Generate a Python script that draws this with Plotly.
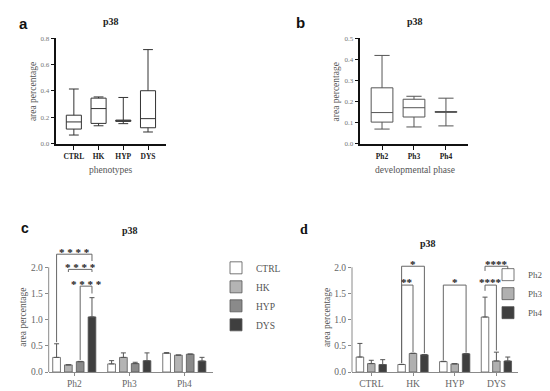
import plotly.graph_objects as go

W, H = 550, 391
SERIF = "Liberation Serif"
SANS = "Liberation Sans"

# ---------------- data ----------------
phenotypes = ["CTRL", "HK", "HYP", "DYS"]
phases = ["Ph2", "Ph3", "Ph4"]

# panel a: box summary per phenotype
a_low = [0.067, 0.137, 0.153, 0.090]
a_q1 = [0.112, 0.155, 0.170, 0.122]
a_med = [0.166, 0.267, 0.175, 0.191]
a_q3 = [0.217, 0.346, 0.180, 0.402]
a_high = [0.415, 0.355, 0.351, 0.713]

# panel b: box summary per developmental phase
b_low = [0.070, 0.080, 0.085]
b_q1 = [0.103, 0.127, 0.149]
b_med = [0.148, 0.171, 0.151]
b_q3 = [0.265, 0.211, 0.153]
b_high = [0.418, 0.225, 0.216]

# panel c: mean (and upper SD) per phase, one series per phenotype
c_ctrl = [0.279, 0.155, 0.359]
c_hk = [0.136, 0.279, 0.322]
c_hyp = [0.198, 0.161, 0.340]
c_dys = [1.053, 0.217, 0.210]
c_ctrl_err = [0.260, 0.062, 0.011]
c_hk_err = [0.003, 0.086, 0.003]
c_hyp_err = [0.005, 0.025, 0.003]
c_dys_err = [0.367, 0.148, 0.070]

# panel d: mean (and upper SD) per phenotype, one series per phase
d_ph2 = [0.286, 0.143, 0.199, 1.050]
d_ph3 = [0.161, 0.354, 0.155, 0.211]
d_ph4 = [0.143, 0.329, 0.348, 0.211]
d_ph2_err = [0.260, 0.003, 0.005, 0.380]
d_ph3_err = [0.063, 0.005, 0.005, 0.168]
d_ph4_err = [0.093, 0.005, 0.005, 0.075]

# significance brackets: (group, left bar, right bar, top, left foot, right foot, label)
c_sig = [
    (0, 0, 3, 2.25, 0.57, 2.12, "* * * *"),
    (0, 1, 3, 1.96, 1.91, 1.91, "* * * *"),
    (0, 2, 3, 1.64, 0.23, 1.50, "* * * *"),
]
d_sig = [
    (1, 0, 2, 2.02, 0.17, 0.36, "*"),
    (1, 0, 1, 1.66, 0.17, 0.38, "**"),
    (2, 0, 2, 1.66, 0.22, 0.37, "*"),
    (3, 0, 1, 1.66, 1.55, 0.41, "****"),
    (3, 0, 2, 2.02, 1.93, 1.93, "****"),
]


def px_x(p):
    return p / W


def px_y(p):
    return 1 - p / H


fig = go.Figure()

# ---------------- panel a ----------------
fig.add_trace(go.Box(
    x=phenotypes, q1=a_q1, median=a_med, q3=a_q3,
    lowerfence=a_low, upperfence=a_high,
    fillcolor="white", line=dict(color="#333333", width=1),
    whiskerwidth=0.65, width=0.61, boxpoints=False, showlegend=False,
    xaxis="x", yaxis="y",
))

# ---------------- panel b ----------------
fig.add_trace(go.Box(
    x=phases, q1=b_q1, median=b_med, q3=b_q3,
    lowerfence=b_low, upperfence=b_high,
    fillcolor="white", line=dict(color="#555555", width=1),
    whiskerwidth=0.7, width=0.68, boxpoints=False, showlegend=False,
    xaxis="x2", yaxis="y2",
))

# ---------------- panel c ----------------
C_SLOT, C_W = 0.2145, 0.14
c_series = [("CTRL", c_ctrl, c_ctrl_err, "#ffffff"),
            ("HK", c_hk, c_hk_err, "#b4b4b4"),
            ("HYP", c_hyp, c_hyp_err, "#8a8a8a"),
            ("DYS", c_dys, c_dys_err, "#3f3f3f")]
nC = len(c_series)
for i, (name, vals, err, col) in enumerate(c_series):
    center = (i - (nC - 1) / 2) * C_SLOT
    fig.add_trace(go.Bar(
        x=phases, y=vals, name=name, width=C_W, offset=center - C_W / 2,
        marker=dict(color=col, line=dict(color="#555555", width=0.8)),
        error_y=dict(type="data", array=err, arrayminus=[0] * len(err),
                     symmetric=False, color="#555555", thickness=1, width=2.5),
        xaxis="x3", yaxis="y3", legend="legend",
    ))

# ---------------- panel d ----------------
D_SLOT, D_W = 0.273, 0.18
d_series = [("Ph2", d_ph2, d_ph2_err, "#ffffff"),
            ("Ph3", d_ph3, d_ph3_err, "#b0b0b0"),
            ("Ph4", d_ph4, d_ph4_err, "#3f3f3f")]
nD = len(d_series)
for i, (name, vals, err, col) in enumerate(d_series):
    center = (i - (nD - 1) / 2) * D_SLOT
    fig.add_trace(go.Bar(
        x=phenotypes, y=vals, name=name, width=D_W, offset=center - D_W / 2,
        marker=dict(color=col, line=dict(color="#555555", width=0.8)),
        error_y=dict(type="data", array=err, arrayminus=[0] * len(err),
                     symmetric=False, color="#555555", thickness=1, width=2.5),
        xaxis="x4", yaxis="y4", legend="legend2",
    ))

shapes = []
annotations = []


def add_brackets(sig, n, slot, xref, yref, fsize):
    for g, li, ri, top, lf, rf, label in sig:
        xl = g + (li - (n - 1) / 2) * slot
        xr = g + (ri - (n - 1) / 2) * slot
        line = dict(color="#666666", width=1)
        shapes.append(dict(type="line", xref=xref, yref=yref, x0=xl, x1=xl, y0=lf, y1=top, line=line))
        shapes.append(dict(type="line", xref=xref, yref=yref, x0=xl, x1=xr, y0=top, y1=top, line=line))
        shapes.append(dict(type="line", xref=xref, yref=yref, x0=xr, x1=xr, y0=rf, y1=top, line=line))
        annotations.append(dict(xref=xref, yref=yref, x=(xl + xr) / 2, y=top + 0.05,
                                text=label, showarrow=False, yanchor="middle",
                                font=dict(family=SERIF, size=fsize, color="#222222", weight="bold")))


add_brackets(c_sig, nC, C_SLOT, "x3", "y3", 11)
add_brackets(d_sig, nD, D_SLOT, "x4", "y4", 11)

# ---------------- layout geometry ----------------
AB_Y = [px_y(135), px_y(26.7)]
C_YMAX = 2.45
CD_Y = [px_y(368.5), px_y(368.5 - C_YMAX * 53.6)]

axis_ab = dict(showline=True, linecolor="#111111", linewidth=1.5, ticks="outside",
               ticklen=4, tickwidth=1.3, tickcolor="#111111", showgrid=False, zeroline=False)
axis_cd = dict(showline=True, linecolor="#8a8a8a", linewidth=1, ticks="outside",
               ticklen=3, tickwidth=1, tickcolor="#8a8a8a", showgrid=False, zeroline=False)

xa_font = dict(family=SERIF, size=7.5, color="#222222", weight="bold")
ya_font = dict(family=SERIF, size=7, color="#777777")
cd_font = dict(family=SERIF, size=9.5, color="#666666")

fig.update_layout(
    width=W, height=H, margin=dict(l=0, r=0, t=0, b=0),
    paper_bgcolor="white", plot_bgcolor="white",
    barmode="group",
    xaxis=dict(domain=[px_x(48.3), px_x(158.3)], anchor="y", range=[-0.71, 3.74],
               tickfont=xa_font, **axis_ab),
    yaxis=dict(domain=AB_Y, anchor="x", range=[0, 0.8], dtick=0.2, tickformat=".1f",
               tickfont=ya_font, **axis_ab),
    xaxis2=dict(domain=[px_x(352.3), px_x(460)], anchor="y2", range=[-0.68, 2.69],
                tickfont=xa_font, **axis_ab),
    yaxis2=dict(domain=AB_Y, anchor="x2", range=[0, 0.5], dtick=0.1, tickformat=".1f",
                tickfont=ya_font, **axis_ab),
    xaxis3=dict(domain=[px_x(40.7), px_x(204.7)], anchor="y3", range=[-0.465, 2.516],
                tickfont=cd_font, **axis_cd),
    yaxis3=dict(domain=CD_Y, anchor="x3", range=[0, C_YMAX],
                tickvals=[0, 0.5, 1.0, 1.5, 2.0], tickformat=".1f",
                tickfont=cd_font, **{**axis_cd, "showline": False}),
    xaxis4=dict(domain=[px_x(344), px_x(510)], anchor="y4", range=[-0.463, 3.518],
                tickfont=cd_font, **axis_cd),
    yaxis4=dict(domain=CD_Y, anchor="x4", range=[0, C_YMAX],
                tickvals=[0, 0.5, 1.0, 1.5, 2.0], tickformat=".1f",
                tickfont=cd_font, **{**axis_cd, "showline": False}),
    legend=dict(x=px_x(208), y=px_y(247), xanchor="left", yanchor="top",
                font=dict(family=SERIF, size=9.5, color="#555555"),
                bgcolor="rgba(0,0,0,0)", itemwidth=30, tracegroupgap=0),
    legend2=dict(x=px_x(480), y=px_y(254), xanchor="left", yanchor="top",
                 font=dict(family=SERIF, size=9, color="#555555"),
                 bgcolor="rgba(0,0,0,0)", itemwidth=30, tracegroupgap=0),
    bargap=0.15,
)

# manual y axis lines for c and d (stop at 2.0 like the original)
for dom_x in ([px_x(40.7)], [px_x(344)]):
    shapes.append(dict(type="line", xref="paper", yref="paper",
                       x0=dom_x[0], x1=dom_x[0], y0=CD_Y[0],
                       y1=CD_Y[0] + (2.0 / C_YMAX) * (CD_Y[1] - CD_Y[0]),
                       line=dict(color="#8a8a8a", width=1)))


def txt(x, y, text, size, family=SERIF, color="#333333", bold=False, angle=0):
    annotations.append(dict(xref="paper", yref="paper", x=px_x(x), y=px_y(y), text=text,
                            showarrow=False, xanchor="center", yanchor="middle", textangle=angle,
                            font=dict(family=family, size=size, color=color,
                                      weight="bold" if bold else "normal")))


# panel letters
txt(15, 12, "a", 15, SANS, "#111111", True)
txt(292, 11, "b", 15, SANS, "#111111", True)
txt(17.5, 221, "c", 14, SANS, "#111111", True)
txt(296, 223, "d", 14, SERIF, "#111111", True)
# titles
txt(103, 10, "p38", 10, SERIF, "#222222", True)
txt(406.7, 10, "p38", 10, SERIF, "#222222", True)
txt(121.7, 224, "p38", 10, SERIF, "#222222", True)
txt(420, 237, "p38", 10, SERIF, "#222222", True)
# axis titles
txt(102.7, 162, "phenotypes", 9.5, SERIF, "#555555")
txt(406.7, 162, "developmental phase", 9.5, SERIF, "#555555")
txt(25, 82, "area percentage", 9.5, SERIF, "#555555", angle=-90)
txt(328.3, 82, "area percentage", 9.5, SERIF, "#555555", angle=-90)
txt(15, 313, "area percentage", 9.5, SERIF, "#555555", angle=-90)
txt(318.3, 313, "area percentage", 9.5, SERIF, "#555555", angle=-90)

fig.update_layout(shapes=shapes, annotations=annotations)
fig.write_html("out.html")
